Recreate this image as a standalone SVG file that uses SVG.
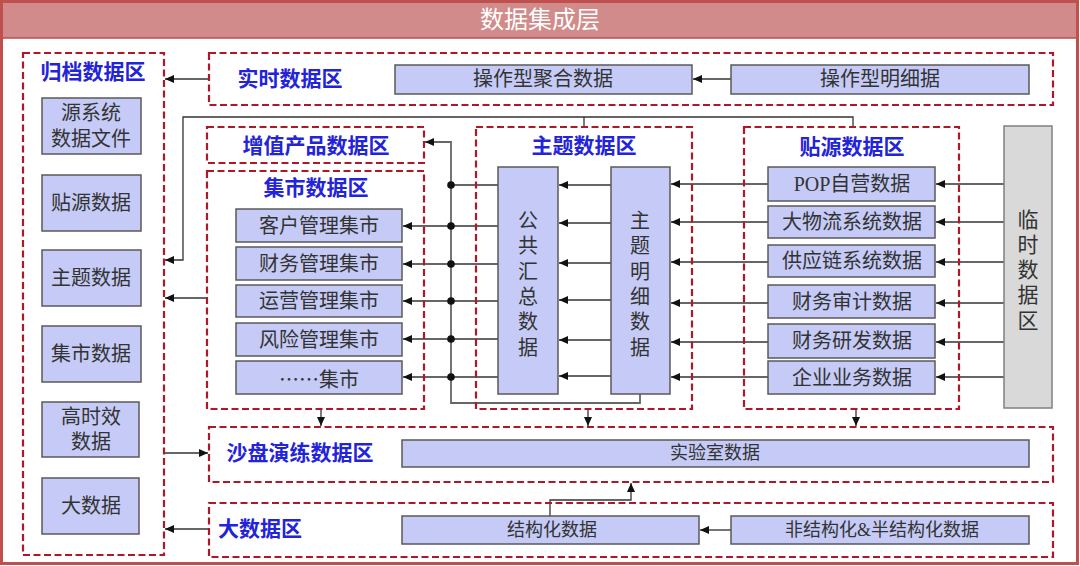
<svg xmlns="http://www.w3.org/2000/svg" width="1080" height="566" viewBox="0 0 1080 566">
<defs>
<marker id="ah" markerUnits="userSpaceOnUse" markerWidth="9" markerHeight="8" refX="9" refY="4" orient="auto"><path d="M0,0 L9,4 L0,8 z" fill="#111"/></marker>
<style>
.zone{fill:none;stroke:#b0182a;stroke-width:2.2;stroke-dasharray:7 3.5}
.box{fill:#c5cbf6;stroke:#595959;stroke-width:1.5}
.tmp{fill:#d9d9d9;stroke:#808080;stroke-width:1.5}
.t{font-family:"Liberation Serif","Noto Sans CJK SC",serif;fill:#333;text-anchor:middle;dominant-baseline:central}
.cj{font-family:"Noto Sans CJK SC",sans-serif}
.ttl{font-family:"Liberation Serif","Noto Sans CJK SC",serif;fill:#2323d9;font-weight:bold;text-anchor:middle;dominant-baseline:central;font-size:21px}
.ln{fill:none;stroke:#333;stroke-width:1.3}
.lg{fill:none;stroke:#666;stroke-width:1.8}
</style>
</defs>
<rect x="0" y="0" width="1080" height="566" fill="#fff"/>
<g id="frame">
<rect x="1.5" y="1.5" width="1076" height="562" fill="none" stroke="#c0504d" stroke-width="3"/>
<rect x="3" y="3" width="1073" height="35" fill="#d08b8a"/>
<line x1="3" y1="38" x2="1076" y2="38" stroke="#b5504f" stroke-width="1.5"/>
<text class="t" x="540" y="20" font-size="24" style="fill:#fff">数据集成层</text>
</g>
<g id="connectors">
<path class="ln" d="M209,79 H165" marker-end="url(#ah)"/>
<path class="ln" d="M731,79 H693" marker-end="url(#ah)"/>
<path class="ln" d="M853,127 V117 H183 V260 H165" marker-end="url(#ah)"/>
<path class="ln" d="M584,127 V117"/>
<path class="ln" d="M208,298 H165" marker-end="url(#ah)"/>
<path class="ln" d="M164,453 H208" marker-end="url(#ah)"/>
<path class="ln" d="M209,529 H165" marker-end="url(#ah)"/>
<path class="lg" d="M640,394 V403 H451 V142 H425" marker-end="url(#ah)"/>
<path class="lg" d="M498,185 H451"/>
<path class="lg" d="M498,226 H403" marker-end="url(#ah)"/>
<path class="lg" d="M498,264 H403" marker-end="url(#ah)"/>
<path class="lg" d="M498,301 H403" marker-end="url(#ah)"/>
<path class="lg" d="M498,339 H403" marker-end="url(#ah)"/>
<path class="lg" d="M498,377 H403" marker-end="url(#ah)"/>
<path class="lg" d="M611,185 H559" marker-end="url(#ah)"/>
<path class="lg" d="M611,223 H559" marker-end="url(#ah)"/>
<path class="lg" d="M611,263 H559" marker-end="url(#ah)"/>
<path class="lg" d="M611,300 H559" marker-end="url(#ah)"/>
<path class="lg" d="M611,340 H559" marker-end="url(#ah)"/>
<path class="lg" d="M611,376 H559" marker-end="url(#ah)"/>
<path class="lg" d="M768,184 H671" marker-end="url(#ah)"/>
<path class="lg" d="M768,222 H671" marker-end="url(#ah)"/>
<path class="lg" d="M768,262 H671" marker-end="url(#ah)"/>
<path class="lg" d="M768,303 H671" marker-end="url(#ah)"/>
<path class="lg" d="M768,342 H671" marker-end="url(#ah)"/>
<path class="lg" d="M768,377 H671" marker-end="url(#ah)"/>
<path class="lg" d="M1004,184 H936" marker-end="url(#ah)"/>
<path class="lg" d="M1004,222 H936" marker-end="url(#ah)"/>
<path class="lg" d="M1004,262 H936" marker-end="url(#ah)"/>
<path class="lg" d="M1004,303 H936" marker-end="url(#ah)"/>
<path class="lg" d="M1004,342 H936" marker-end="url(#ah)"/>
<path class="lg" d="M1004,377 H936" marker-end="url(#ah)"/>
<path class="ln" d="M321,409 V426" marker-end="url(#ah)"/>
<path class="ln" d="M588,409 V426" marker-end="url(#ah)"/>
<path class="ln" d="M856,409 V426" marker-end="url(#ah)"/>
<path class="ln" d="M550,516 V500 H631 V483" marker-end="url(#ah)"/>
<path class="lg" d="M731,530 H700" marker-end="url(#ah)"/>
<g fill="#111">
<circle cx="451" cy="185" r="3.8"/><circle cx="451" cy="226" r="3.8"/><circle cx="451" cy="264" r="3.8"/>
<circle cx="451" cy="301" r="3.8"/><circle cx="451" cy="339" r="3.8"/><circle cx="451" cy="377" r="3.8"/>
</g>
</g>
<g id="archive">
<rect class="zone" x="23" y="53" width="141" height="502"/>
<text class="ttl" x="93" y="72" font-size="20">归档数据区</text>
</g>
<g id="arc-src"><rect class="box" x="42" y="98" width="99" height="56"/><text class="t" x="91" y="113" font-size="20">源系统</text><text class="t" x="91" y="139" font-size="20">数据文件</text></g>
<g id="arc-tieyuan"><rect class="box" x="42" y="175" width="99" height="56"/><text class="t" x="91" y="203" font-size="20">贴源数据</text></g>
<g id="arc-theme"><rect class="box" x="42" y="250" width="99" height="56"/><text class="t" x="91" y="278" font-size="20">主题数据</text></g>
<g id="arc-mart"><rect class="box" x="42" y="326" width="99" height="56"/><text class="t" x="91" y="354" font-size="20">集市数据</text></g>
<g id="arc-hot"><rect class="box" x="42" y="402" width="97" height="55"/><text class="t" x="91" y="417" font-size="20">高时效</text><text class="t" x="91" y="442" font-size="20">数据</text></g>
<g id="arc-big"><rect class="box" x="42" y="478" width="97" height="56"/><text class="t" x="91" y="506" font-size="20">大数据</text></g>
<g id="realtime">
<rect class="zone" x="209" y="53" width="844" height="52"/>
<text class="ttl" x="290" y="79">实时数据区</text>
</g>
<g id="op-agg"><rect class="box" x="395" y="65" width="297" height="29"/><text class="t" x="543" y="79" font-size="20">操作型聚合数据</text></g>
<g id="op-detail"><rect class="box" x="731" y="65" width="298" height="29"/><text class="t" x="880" y="79" font-size="20">操作型明细据</text></g>
<g id="value-add">
<rect class="zone" x="207" y="127" width="217" height="36"/>
<text class="ttl" x="316" y="146">增值产品数据区</text>
</g>
<g id="mart-zone">
<rect class="zone" x="207" y="171" width="217" height="238"/>
<text class="ttl" x="316" y="188">集市数据区</text>
</g>
<g id="mart-1"><rect class="box" x="236" y="209" width="166" height="33"/><text class="t" x="319" y="226" font-size="20">客户管理集市</text></g>
<g id="mart-2"><rect class="box" x="236" y="247" width="166" height="33"/><text class="t" x="319" y="264" font-size="20">财务管理集市</text></g>
<g id="mart-3"><rect class="box" x="236" y="285" width="166" height="32"/><text class="t" x="319" y="301" font-size="20">运营管理集市</text></g>
<g id="mart-4"><rect class="box" x="236" y="323" width="166" height="33"/><text class="t" x="319" y="340" font-size="20">风险管理集市</text></g>
<g id="mart-5"><rect class="box" x="236" y="361" width="166" height="33"/><text class="t cj" x="319" y="378" font-size="20">……集市</text></g>
<g id="theme-zone">
<rect class="zone" x="476" y="127" width="216" height="282"/>
<text class="ttl" x="584" y="146" font-size="22">主题数据区</text>
</g>
<g id="theme-summary"><rect class="box" x="498" y="167" width="60" height="227"/>
<text class="t" x="528" y="221" font-size="20">公</text><text class="t" x="528" y="246" font-size="20">共</text><text class="t" x="528" y="272" font-size="20">汇</text><text class="t" x="528" y="297" font-size="20">总</text><text class="t" x="528" y="322" font-size="20">数</text><text class="t" x="528" y="348" font-size="20">据</text></g>
<g id="theme-detail"><rect class="box" x="611" y="167" width="59" height="227"/>
<text class="t" x="640" y="221" font-size="20">主</text><text class="t" x="640" y="246" font-size="20">题</text><text class="t" x="640" y="272" font-size="20">明</text><text class="t" x="640" y="297" font-size="20">细</text><text class="t" x="640" y="322" font-size="20">数</text><text class="t" x="640" y="348" font-size="20">据</text></g>
<g id="tieyuan-zone">
<rect class="zone" x="744" y="127" width="215" height="282"/>
<text class="ttl" x="852" y="147" font-size="22">贴源数据区</text>
</g>
<g id="ty-1"><rect class="box" x="768" y="167" width="167" height="34"/><text class="t" x="852" y="184" font-size="20">POP自营数据</text></g>
<g id="ty-2"><rect class="box" x="768" y="206" width="167" height="32"/><text class="t" x="852" y="222" font-size="20">大物流系统数据</text></g>
<g id="ty-3"><rect class="box" x="768" y="245" width="167" height="32"/><text class="t" x="852" y="261" font-size="20">供应链系统数据</text></g>
<g id="ty-4"><rect class="box" x="768" y="285" width="167" height="33"/><text class="t" x="852" y="302" font-size="20">财务审计数据</text></g>
<g id="ty-5"><rect class="box" x="768" y="324" width="167" height="34"/><text class="t" x="852" y="341" font-size="20">财务研发数据</text></g>
<g id="ty-6"><rect class="box" x="768" y="361" width="167" height="33"/><text class="t" x="852" y="378" font-size="20">企业业务数据</text></g>
<g id="temp-zone"><rect class="tmp" x="1004" y="126" width="48" height="282"/>
<text class="t" x="1028" y="220" font-size="21">临</text><text class="t" x="1028" y="245" font-size="21">时</text><text class="t" x="1028" y="270" font-size="21">数</text><text class="t" x="1028" y="295" font-size="21">据</text><text class="t" x="1028" y="321" font-size="21">区</text></g>
<g id="sandbox">
<rect class="zone" x="209" y="427" width="844" height="55"/>
<text class="ttl" x="300" y="453">沙盘演练数据区</text>
</g>
<g id="lab"><rect class="box" x="402" y="440" width="627" height="27"/><text class="t" x="715" y="453" font-size="18">实验室数据</text></g>
<g id="bigdata">
<rect class="zone" x="209" y="503" width="844" height="54"/>
<text class="ttl" x="260" y="529">大数据区</text>
</g>
<g id="structured"><rect class="box" x="402" y="516" width="297" height="28"/><text class="t" x="552" y="530" font-size="18">结构化数据</text></g>
<g id="unstructured"><rect class="box" x="731" y="516" width="298" height="28"/><text class="t" x="882" y="530" font-size="18">非结构化&amp;半结构化数据</text></g>
</svg>
